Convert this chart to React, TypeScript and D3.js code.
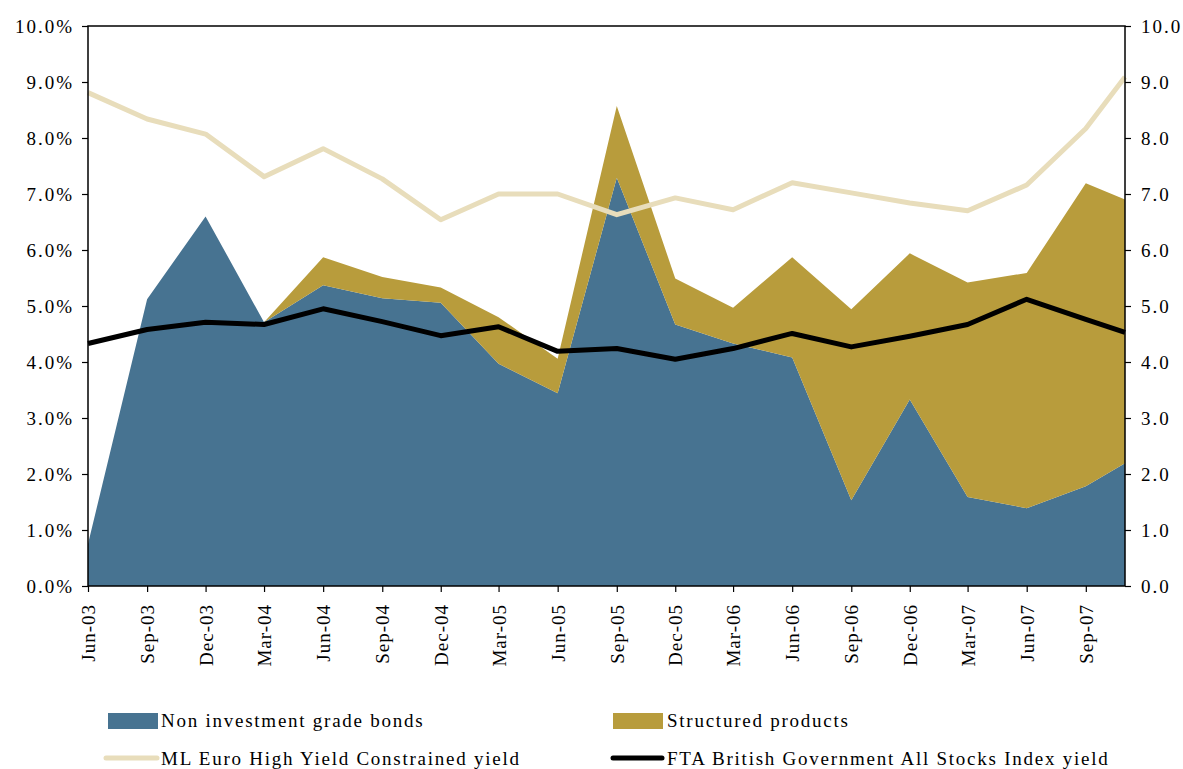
import React, { useRef, useEffect } from "react";
import * as d3 from "d3";

// observation dates (last point is the latest reading, not a quarter end)
const dates = [
    "2003-06-01", "2003-09-01", "2003-12-01", "2004-03-01", "2004-06-01",
    "2004-09-01", "2004-12-01", "2005-03-01", "2005-06-01", "2005-09-01",
    "2005-12-01", "2006-03-01", "2006-06-01", "2006-09-01", "2006-12-01",
    "2007-03-01", "2007-06-01", "2007-09-01", "2007-11-01",
];

const tickLabels = [
    "Jun-03", "Sep-03", "Dec-03", "Mar-04", "Jun-04", "Sep-04", "Dec-04",
    "Mar-05", "Jun-05", "Sep-05", "Dec-05", "Mar-06", "Jun-06", "Sep-06",
    "Dec-06", "Mar-07", "Jun-07", "Sep-07",
];

const nonInvestmentGrade = [
    0.75, 5.12, 6.6, 4.71, 5.37, 5.14, 5.06, 3.97, 3.44, 7.29,
    4.67, 4.33, 4.08, 1.53, 3.33, 1.59, 1.39, 1.78, 2.19,
];

const structuredProducts = [
    0, 0, 0, 0, 0.5, 0.38, 0.27, 0.83, 0.62, 1.28,
    0.82, 0.64, 1.79, 3.41, 2.61, 3.83, 4.2, 5.41, 4.71,
];

const mlEuroHighYield = [
    8.81, 8.34, 8.07, 7.31, 7.81, 7.27, 6.54, 7.0, 7.0, 6.63,
    6.93, 6.72, 7.2, 7.02, 6.84, 6.7, 7.16, 8.17, 9.09,
];

const ftaGilts = [
    4.33, 4.58, 4.71, 4.67, 4.95, 4.72, 4.47, 4.63, 4.19, 4.24,
    4.05, 4.24, 4.51, 4.27, 4.46, 4.67, 5.12, 4.76, 4.53,
];

const yTicks = [0, 1, 2, 3, 4, 5, 6, 7, 8, 9, 10];

const BLUE = "#477391";
const GOLD = "#b89c3c";
const BEIGE = "#e8ddbb";
const FONT = "'Liberation Serif', 'Times New Roman', serif";

export default function App() {
    const svgRef = useRef<SVGSVGElement>(null);

    useEffect(() => {
        if (!svgRef.current) return;
        const svg = d3.select(svgRef.current);
        svg.selectAll("*").remove();

        const W = 1183;
        const H = 769;
        const left = 88, right = 1125, top = 26, bottom = 586;

        const parse = d3.timeParse("%Y-%m-%d");
        const data = dates.map((d, i) => ({
            date: parse(d)!,
            bonds: nonInvestmentGrade[i],
            structured: structuredProducts[i],
            ml: mlEuroHighYield[i],
            fta: ftaGilts[i],
        }));

        const x = d3.scaleTime()
            .domain(d3.extent(data, d => d.date) as [Date, Date])
            .range([left, right]);

        const y = d3.scaleLinear()
            .domain([0, 10])
            .range([bottom, top]);

        svg.append("rect")
            .attr("width", W)
            .attr("height", H)
            .attr("fill", "#fff");

        // Stacked areas
        const stack = d3.stack<any>().keys(["bonds", "structured"]);
        const series = stack(data);
        const area = d3.area<any>()
            .x(d => x(d.data.date))
            .y0(d => y(d[0]))
            .y1(d => y(d[1]));

        svg.append("g")
            .selectAll("path")
            .data(series)
            .join("path")
            .attr("fill", (_, i) => (i === 0 ? BLUE : GOLD))
            .attr("d", area as any);

        // Lines
        const mlLine = d3.line<any>()
            .x(d => x(d.date))
            .y(d => y(d.ml));
        const ftaLine = d3.line<any>()
            .x(d => x(d.date))
            .y(d => y(d.fta));

        svg.append("path")
            .datum(data)
            .attr("fill", "none")
            .attr("stroke", BEIGE)
            .attr("stroke-width", 5)
            .attr("stroke-linejoin", "round")
            .attr("d", mlLine);

        svg.append("path")
            .datum(data)
            .attr("fill", "none")
            .attr("stroke", "#000")
            .attr("stroke-width", 5)
            .attr("stroke-linejoin", "round")
            .attr("d", ftaLine);

        // Frame
        svg.append("rect")
            .attr("x", left)
            .attr("y", top)
            .attr("width", right - left)
            .attr("height", bottom - top)
            .attr("fill", "none")
            .attr("stroke", "#000")
            .attr("stroke-width", 1.5);

        // Left axis
        const yLeft = svg.append("g")
            .attr("transform", `translate(${left},0)`)
            .call(d3.axisLeft(y).tickValues(yTicks).tickSize(6).tickPadding(8)
                .tickFormat(d => `${(d as number).toFixed(1)}%`));
        yLeft.select(".domain").remove();

        // Right axis
        const yRight = svg.append("g")
            .attr("transform", `translate(${right},0)`)
            .call(d3.axisRight(y).tickValues(yTicks).tickSize(6).tickPadding(10)
                .tickFormat(d => (d as number).toFixed(1)));
        yRight.select(".domain").remove();

        // Bottom axis
        const tickDates = data.slice(0, tickLabels.length).map(d => d.date);
        const xAxis = svg.append("g")
            .attr("transform", `translate(0,${bottom})`)
            .call(d3.axisBottom(x).tickValues(tickDates).tickSize(6)
                .tickFormat((_, i) => tickLabels[i]));
        xAxis.select(".domain").remove();

        svg.selectAll(".tick line")
            .attr("stroke", "#000")
            .attr("stroke-width", 1.2);
        svg.selectAll(".tick text")
            .attr("fill", "#000")
            .style("font-family", FONT)
            .style("font-size", "19px")
            .style("letter-spacing", "2px");

        xAxis.selectAll("text")
            .attr("text-anchor", "end")
            .attr("transform", "rotate(-90)")
            .attr("x", -18)
            .attr("y", 0)
            .attr("dy", "0.34em")
            .style("letter-spacing", "1px");

        // Legend
        const legend = svg.append("g")
            .style("font-family", FONT)
            .style("font-size", "19px")
            .style("letter-spacing", "1.75px");

        legend.append("rect")
            .attr("x", 108).attr("y", 713).attr("width", 50).attr("height", 16)
            .attr("fill", BLUE);
        legend.append("text")
            .attr("x", 161).attr("y", 727)
            .text("Non investment grade bonds");

        legend.append("rect")
            .attr("x", 613).attr("y", 713).attr("width", 50).attr("height", 16)
            .attr("fill", GOLD);
        legend.append("text")
            .attr("x", 667).attr("y", 727)
            .text("Structured products");

        legend.append("line")
            .attr("x1", 106).attr("x2", 157).attr("y1", 758).attr("y2", 758)
            .attr("stroke", BEIGE).attr("stroke-width", 5).attr("stroke-linecap", "round");
        legend.append("text")
            .attr("x", 161).attr("y", 765)
            .text("ML Euro High Yield Constrained yield");

        legend.append("line")
            .attr("x1", 613).attr("x2", 662).attr("y1", 758).attr("y2", 758)
            .attr("stroke", "#000").attr("stroke-width", 5).attr("stroke-linecap", "round");
        legend.append("text")
            .attr("x", 667).attr("y", 765)
            .text("FTA British Government All Stocks Index yield");
    }, []);

    return (
        <svg
            ref={svgRef}
            width={1183}
            height={769}
            style={{ position: "absolute", left: 0, top: 0, display: "block" }}
        />
    );
}
